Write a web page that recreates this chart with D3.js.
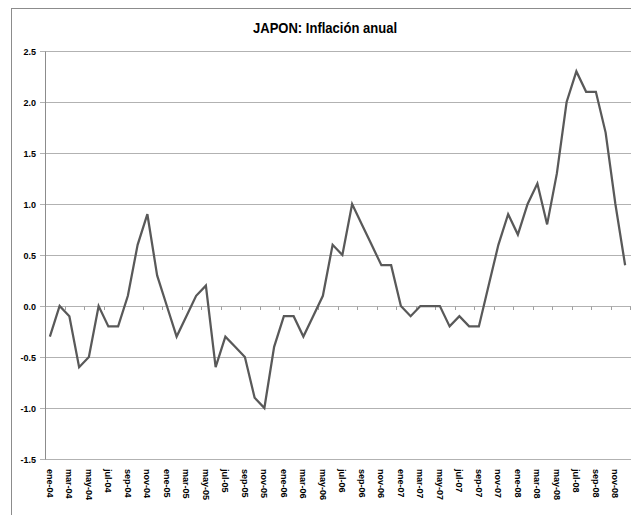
<!DOCTYPE html>
<html>
<head>
<meta charset="utf-8">
<script src="https://cdn.jsdelivr.net/npm/d3@7"></script>
<style>
  html, body { margin: 0; padding: 0; background: #fff; }
  svg { display: block; }
  .lbl { font-family: "Liberation Sans Narrow", "Arial Narrow", "Liberation Sans", Arial, sans-serif; font-weight: bold; }
</style>
</head>
<body>
<svg id="chart" width="631" height="515"></svg>
<script>
const title = "JAPON: Inflación anual";
const months = ["ene","feb","mar","abr","may","jun","jul","ago","sep","oct","nov","dic"];
const years = ["04","05","06","07","08"];
const categories = years.flatMap(y => months.map(m => m + "-" + y));
const values = [
  -0.3, 0.0, -0.1, -0.6, -0.5, 0.0, -0.2, -0.2, 0.1, 0.6, 0.9, 0.3,
  0.0, -0.3, -0.1, 0.1, 0.2, -0.6, -0.3, -0.4, -0.5, -0.9, -1.0, -0.4,
  -0.1, -0.1, -0.3, -0.1, 0.1, 0.6, 0.5, 1.0, 0.8, 0.6, 0.4, 0.4,
  0.0, -0.1, 0.0, 0.0, 0.0, -0.2, -0.1, -0.2, -0.2, 0.2, 0.6, 0.9,
  0.7, 1.0, 1.2, 0.8, 1.3, 2.0, 2.3, 2.1, 2.1, 1.7, 1.0, 0.4
];
const yTicks = [-1.5, -1.0, -0.5, 0.0, 0.5, 1.0, 1.5, 2.0, 2.5];
const xTickLabels = categories.filter((c, i) => i % 2 === 0);

(function draw() {
  const svg = d3.select("#chart");
  const mLeft = 45, mRight = 630, mTop = 51, mBottom = 459;

  // outer chart border
  svg.append("rect").attr("x", 11.5).attr("y", 8.5).attr("width", 640).attr("height", 520)
    .attr("fill", "none").attr("stroke", "#8c8c8c").attr("stroke-width", 1);

  const x = d3.scaleBand().domain(categories).range([mLeft, mRight]).paddingInner(0).paddingOuter(0);
  const y = d3.scaleLinear().domain([-1.5, 2.5]).range([mBottom, mTop]);

  // gridlines
  svg.append("g").selectAll("line").data(yTicks).join("line")
    .attr("x1", mLeft - 5).attr("x2", mRight + 1)
    .attr("y1", d => Math.round(y(d)) + 0.5).attr("y2", d => Math.round(y(d)) + 0.5)
    .attr("stroke", "#b2b2b2").attr("stroke-width", 1);

  // left axis line
  svg.append("line").attr("x1", mLeft + 0.5).attr("x2", mLeft + 0.5)
    .attr("y1", Math.round(y(2.5)) + 0.5).attr("y2", Math.round(y(-1.5)) + 0.5)
    .attr("stroke", "#8c8c8c").attr("stroke-width", 1);

  // y labels
  svg.append("g").selectAll("text").data(yTicks).join("text")
    .attr("class", "lbl")
    .attr("x", 36).attr("y", d => y(d) + 3.5)
    .attr("text-anchor", "end").attr("font-size", 9).attr("fill", "#000")
    .text(d => d.toFixed(1));

  // category axis tick marks at the zero line
  const boundaries = d3.range(0, categories.length + 1, 2).map(k => mLeft + k * x.bandwidth());
  svg.append("g").selectAll("line").data(boundaries).join("line")
    .attr("x1", d => Math.round(d) + 0.5).attr("x2", d => Math.round(d) + 0.5)
    .attr("y1", Math.round(y(0)) + 0.5).attr("y2", Math.round(y(0)) + 4)
    .attr("stroke", "#a0a0a0").attr("stroke-width", 1);

  // x labels (rotated)
  svg.append("g").selectAll("text").data(xTickLabels).join("text")
    .attr("class", "lbl")
    .attr("transform", d => `translate(${x(d) + x.bandwidth() / 2 - 3},${mBottom + 10}) rotate(90)`)
    .attr("text-anchor", "start").attr("font-size", 9).attr("fill", "#000")
    .text(d => d);

  // line
  const line = d3.line()
    .x((d, i) => x(categories[i]) + x.bandwidth() / 2)
    .y(d => y(d));
  svg.append("path").datum(values)
    .attr("d", line)
    .attr("fill", "none").attr("stroke", "#595959").attr("stroke-width", 2.25)
    .attr("stroke-linejoin", "miter");

  // title
  svg.append("text").attr("class", "lbl")
    .attr("x", 325).attr("y", 33).attr("text-anchor", "middle")
    .attr("font-size", 15).attr("fill", "#000")
    .attr("textLength", 144).attr("lengthAdjust", "spacingAndGlyphs")
    .text(title);
})();
</script>
</body>
</html>
